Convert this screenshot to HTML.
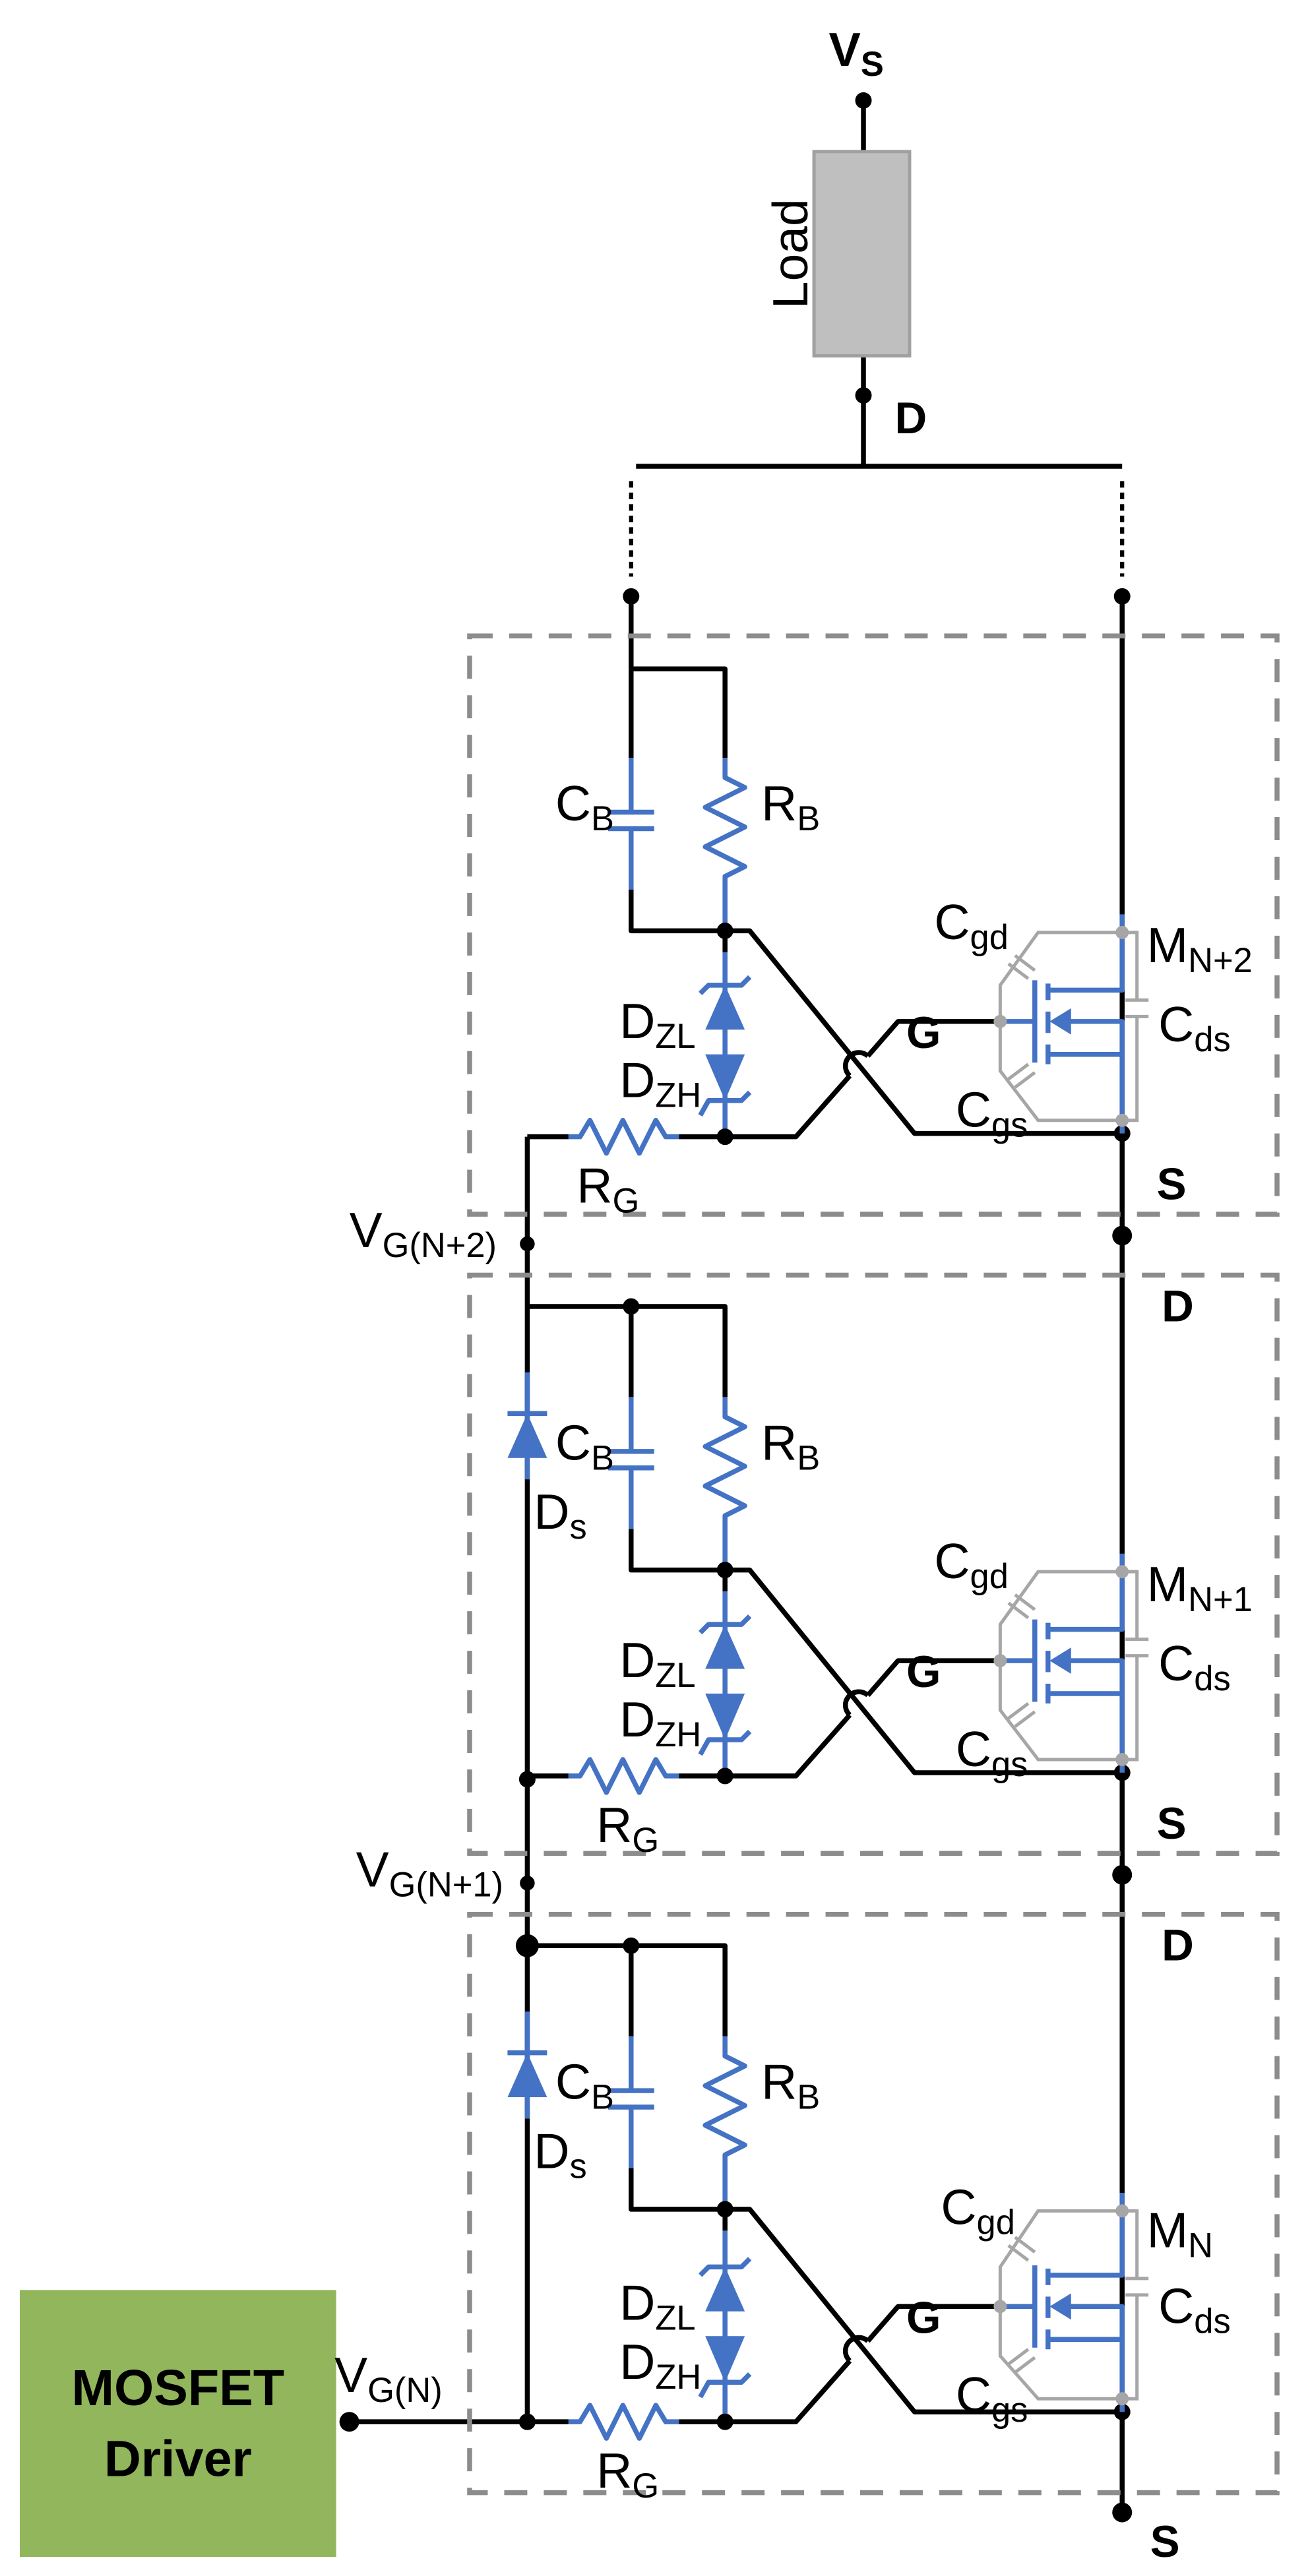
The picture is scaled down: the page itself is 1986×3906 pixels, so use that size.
<!DOCTYPE html>
<html><head><meta charset="utf-8"><style>
html,body{margin:0;padding:0;background:#fff;}
svg{display:block;}
text{font-family:"Liberation Sans",Arial,sans-serif;fill:#000;}
.k{stroke:#000;stroke-width:3;fill:none;stroke-linejoin:round;}
.b{stroke:#4472c4;stroke-width:3;fill:none;stroke-linejoin:round;}
.g{stroke:#a6a6a6;stroke-width:2;fill:none;}
.box{stroke:#8c8c8c;stroke-width:3;fill:none;stroke-dasharray:14 10;}
.bf{fill:#4472c4;}
.l{font-size:30px;}
.s{font-size:21px;}
.bd{font-size:27px;font-weight:bold;}
</style></head><body>
<svg width="1986" height="3906" viewBox="0 0 795 1563.6" xmlns="http://www.w3.org/2000/svg">
<!-- top -->
<text x="503" y="40" class="bd" style="font-size:29px">V<tspan class="s" dy="6" style="font-weight:bold">S</tspan></text>
<circle cx="524" cy="61" r="5"/>
<path class="k" d="M524 61 V92 M524 216 V283 M386 283 H681"/>
<rect x="494" y="92" width="58" height="124" fill="#bfbfbf" stroke="#a0a0a0" stroke-width="2"/>
<text transform="translate(490,154) rotate(-90)" text-anchor="middle" style="font-size:30px">Load</text>
<circle cx="524" cy="240" r="5"/>
<text x="543" y="263" class="bd">D</text>
<path d="M383 292 V350 M681 292 V350" stroke="#000" stroke-width="2.5" stroke-dasharray="4 3"/>
<circle cx="383" cy="362" r="5"/><circle cx="681" cy="362" r="5"/>
<path class="k" d="M383 362 V406 M681 362 V1525 M320 690 V1470 M212 1470 H320"/>

<g id="st1">
<rect class="box" x="285" y="386" width="490" height="351"/>
<path class="k" d="M383 406 H440 V460 M383 406 V460 M383 540 V565 H440 V578 M440 565 H455 L555 688 H681 M320 690 H345 M412 690 H483 L515.7 653 M526.7 641 L545 620 H607"/>
<path class="k" d="M515.7 653 A8 8 0 0 1 526.7 641"/>
<path class="b" d="M383 460 V493 M369 493 H397 M369 503 H397 M383 503 V540"/>
<path class="b" d="M440 460 V472 L452 478 L428 490 L452 502 L428 514 L452 526 L440 532 V565"/>
<path class="b" d="M440 578 V690"/>
<polygon class="bf" points="440,598 428,625 452,625"/>
<path class="b" d="M425 603 L430 598 H450 L455 593"/>
<polygon class="bf" points="428,640 452,640 440,668"/>
<path class="b" d="M425 677 L430 668 H450 L455 663"/>
<path class="b" d="M345 690 H352 L358 680 L368 700 L378 680 L388 700 L398 680 L404 690 H412"/>
<circle cx="440" cy="565" r="5"/><circle cx="440" cy="690" r="5"/><circle cx="681" cy="688" r="5"/>
<path class="g" d="M607 620 V598 L630 566 H690 V607 M690 617 V680 H630 L607 650 V620"/>
<path class="g" d="M612 585 L624 594 M616 580 L628 589 M612 655 L624 646 M616 660 L628 651 M683 607 H697 M683 617 H697" stroke-width="2.5"/>
<path class="b" d="M607 620 H628 M628 595 V645 M636 597 V607 M636 614 V627 M636 634 V646 M681 555 V601 H636 M636 640 H681 M648 620 H681 V688"/>
<polygon class="bf" points="637,620 650,612 650,628"/>
<circle cx="607" cy="620" r="4" fill="#a6a6a6"/><circle cx="681" cy="566" r="4" fill="#a6a6a6"/><circle cx="681" cy="680" r="4" fill="#a6a6a6"/>
<text x="337" y="498" class="l">C<tspan class="s" dy="6">B</tspan></text>
<text x="462" y="498" class="l">R<tspan class="s" dy="6">B</tspan></text>
<text x="376" y="630" class="l">D<tspan class="s" dy="6">ZL</tspan></text>
<text x="376" y="666" class="l">D<tspan class="s" dy="6">ZH</tspan></text>
<text x="350" y="730" class="l">R<tspan class="s" dy="6">G</tspan></text>
<text x="550" y="636" class="bd">G</text>
<text x="567" y="570" class="l">C<tspan class="s" dy="6">gd</tspan></text>
<text x="580" y="684" class="l">C<tspan class="s" dy="6">gs</tspan></text>
<text x="703" y="632" class="l">C<tspan class="s" dy="6">ds</tspan></text>
</g>
<text x="696" y="584" class="l">M<tspan class="s" dy="6">N+2</tspan></text>
<text x="702" y="728" class="bd">S</text>
<circle cx="681" cy="750" r="6"/>
<circle cx="320" cy="755" r="4.5"/>
<text x="212" y="757" class="l">V<tspan class="s" dy="6">G(N+2)</tspan></text>

<g transform="translate(0,388)">
<rect class="box" x="285" y="386" width="490" height="351"/>
<path class="k" d="M320 405 H440 V460 M383 405 V460 M383 540 V565 H440 V578 M440 565 H455 L555 688 H681 M320 690 H345 M412 690 H483 L515.7 653 M526.7 641 L545 620 H607"/>
<path class="k" d="M515.7 653 A8 8 0 0 1 526.7 641"/>
<path class="b" d="M320 445 V510 M308 470 H332"/>
<polygon class="bf" points="320,470 308,497 332,497"/>
<path class="b" d="M383 460 V493 M369 493 H397 M369 503 H397 M383 503 V540"/>
<path class="b" d="M440 460 V472 L452 478 L428 490 L452 502 L428 514 L452 526 L440 532 V565"/>
<path class="b" d="M440 578 V690"/>
<polygon class="bf" points="440,598 428,625 452,625"/>
<path class="b" d="M425 603 L430 598 H450 L455 593"/>
<polygon class="bf" points="428,640 452,640 440,668"/>
<path class="b" d="M425 677 L430 668 H450 L455 663"/>
<path class="b" d="M345 690 H352 L358 680 L368 700 L378 680 L388 700 L398 680 L404 690 H412"/>
<circle cx="383" cy="405" r="5"/><circle cx="440" cy="565" r="5"/><circle cx="440" cy="690" r="5"/><circle cx="681" cy="688" r="5"/><circle cx="320" cy="692" r="5"/>
<path class="g" d="M607 620 V598 L630 566 H690 V607 M690 617 V680 H630 L607 650 V620"/>
<path class="g" d="M612 585 L624 594 M616 580 L628 589 M612 655 L624 646 M616 660 L628 651 M683 607 H697 M683 617 H697" stroke-width="2.5"/>
<path class="b" d="M607 620 H628 M628 595 V645 M636 597 V607 M636 614 V627 M636 634 V646 M681 555 V601 H636 M636 640 H681 M648 620 H681 V688"/>
<polygon class="bf" points="637,620 650,612 650,628"/>
<circle cx="607" cy="620" r="4" fill="#a6a6a6"/><circle cx="681" cy="566" r="4" fill="#a6a6a6"/><circle cx="681" cy="680" r="4" fill="#a6a6a6"/>
<text x="337" y="498" class="l">C<tspan class="s" dy="6">B</tspan></text>
<text x="462" y="498" class="l">R<tspan class="s" dy="6">B</tspan></text>
<text x="324" y="540" class="l">D<tspan class="s" dy="6">s</tspan></text>
<text x="376" y="630" class="l">D<tspan class="s" dy="6">ZL</tspan></text>
<text x="376" y="666" class="l">D<tspan class="s" dy="6">ZH</tspan></text>
<text x="362" y="730" class="l">R<tspan class="s" dy="6">G</tspan></text>
<text x="550" y="636" class="bd">G</text>
<text x="567" y="570" class="l">C<tspan class="s" dy="6">gd</tspan></text>
<text x="580" y="684" class="l">C<tspan class="s" dy="6">gs</tspan></text>
<text x="703" y="632" class="l">C<tspan class="s" dy="6">ds</tspan></text>
<text x="705" y="414" class="bd">D</text>
<text x="696" y="584" class="l">M<tspan class="s" dy="6">N+1</tspan></text>
<text x="702" y="728" class="bd">S</text>
<circle cx="681" cy="750" r="6"/>
<circle cx="320" cy="755" r="4.5"/>
<text x="216" y="757" class="l">V<tspan class="s" dy="6">G(N+1)</tspan></text>
</g>

<g transform="translate(0,776)">
<rect class="box" x="285" y="386" width="490" height="351"/>
<path class="k" d="M320 405 H440 V460 M383 405 V460 M383 540 V565 H440 V578 M440 565 H455 L555 688 H681 M320 694 H345 M412 694 H483 L515.7 657 M526.7 645 L545 624 H607"/>
<path class="k" d="M515.7 657 A8 8 0 0 1 526.7 645"/>
<path class="b" d="M320 445 V510 M308 470 H332"/>
<polygon class="bf" points="320,470 308,497 332,497"/>
<path class="b" d="M383 460 V493 M369 493 H397 M369 503 H397 M383 503 V540"/>
<path class="b" d="M440 460 V472 L452 478 L428 490 L452 502 L428 514 L452 526 L440 532 V565"/>
<path class="b" d="M440 578 V694"/>
<polygon class="bf" points="440,600 428,627 452,627"/>
<path class="b" d="M425 605 L430 600 H450 L455 595"/>
<polygon class="bf" points="428,642 452,642 440,670"/>
<path class="b" d="M425 679 L430 670 H450 L455 665"/>
<path class="b" d="M345 694 H352 L358 684 L368 704 L378 684 L388 704 L398 684 L404 694 H412"/>
<circle cx="320" cy="405" r="7"/><circle cx="383" cy="405" r="5"/><circle cx="440" cy="565" r="5"/><circle cx="440" cy="694" r="5"/><circle cx="681" cy="688" r="5"/><circle cx="320" cy="694" r="5"/>
<path class="g" d="M607 624 V600 L630 566 H690 V607 M690 617 V680 H630 L607 654 V624"/>
<path class="g" d="M612 587 L624 596 M616 582 L628 591 M612 659 L624 650 M616 664 L628 655 M683 607 H697 M683 617 H697" stroke-width="2.5"/>
<path class="b" d="M607 624 H628 M628 599 V649 M636 601 V611 M636 618 V631 M636 638 V650 M681 555 V605 H636 M636 644 H681 M648 624 H681 V688"/>
<polygon class="bf" points="637,624 650,616 650,632"/>
<circle cx="607" cy="624" r="4" fill="#a6a6a6"/><circle cx="681" cy="566" r="4" fill="#a6a6a6"/><circle cx="681" cy="680" r="4" fill="#a6a6a6"/>
<text x="337" y="498" class="l">C<tspan class="s" dy="6">B</tspan></text>
<text x="462" y="498" class="l">R<tspan class="s" dy="6">B</tspan></text>
<text x="324" y="540" class="l">D<tspan class="s" dy="6">s</tspan></text>
<text x="376" y="632" class="l">D<tspan class="s" dy="6">ZL</tspan></text>
<text x="376" y="668" class="l">D<tspan class="s" dy="6">ZH</tspan></text>
<text x="362" y="734" class="l">R<tspan class="s" dy="6">G</tspan></text>
<text x="550" y="640" class="bd">G</text>
<text x="571" y="574" class="l">C<tspan class="s" dy="6">gd</tspan></text>
<text x="580" y="688" class="l">C<tspan class="s" dy="6">gs</tspan></text>
<text x="703" y="634" class="l">C<tspan class="s" dy="6">ds</tspan></text>
<text x="705" y="414" class="bd">D</text>
<text x="696" y="588" class="l">M<tspan class="s" dy="6">N</tspan></text>
</g>
<circle cx="681" cy="1525" r="6"/>
<text x="698" y="1552" class="bd">S</text>
<rect x="12" y="1390" width="192" height="162" fill="#92b65b"/>
<text x="108" y="1460" text-anchor="middle" class="bd" style="font-size:31px">MOSFET</text>
<text x="108" y="1503" text-anchor="middle" class="bd" style="font-size:31px">Driver</text>
<circle cx="212" cy="1470" r="6"/><circle cx="320" cy="1470" r="5"/>
<text x="203" y="1452" class="l">V<tspan class="s" dy="6">G(N)</tspan></text>
</svg>
</body></html>
